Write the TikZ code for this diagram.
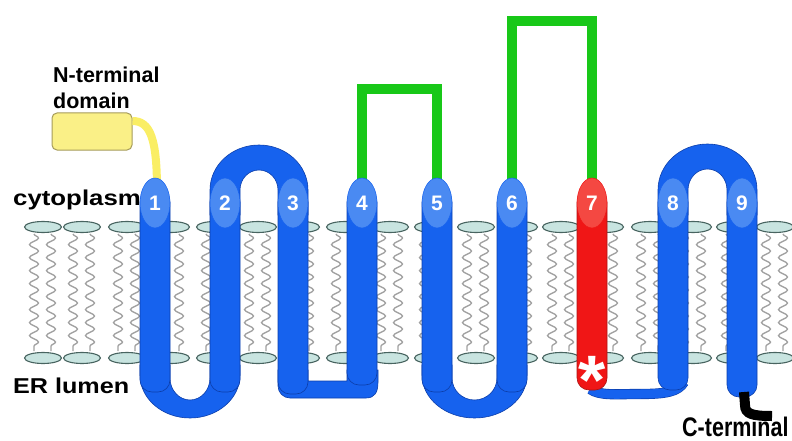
\documentclass[tikz,border=0pt]{standalone}
\usepackage{fontspec}
\setmainfont{Liberation Sans}
\usetikzlibrary{decorations.pathmorphing,shapes.geometric}
\definecolor{hblue}{RGB}{22,98,238}
\definecolor{hedge}{RGB}{12,62,170}
\definecolor{oblue}{RGB}{74,138,242}
\definecolor{hred}{RGB}{240,22,22}
\definecolor{ored}{RGB}{244,72,66}
\definecolor{redge}{RGB}{170,20,20}
\definecolor{headfill}{RGB}{200,228,224}
\definecolor{headedge}{RGB}{72,100,96}
\definecolor{tailgray}{RGB}{160,160,160}
\definecolor{loopgreen}{RGB}{24,200,24}
\definecolor{ntfill}{RGB}{250,240,135}
\definecolor{ntedge}{RGB}{165,155,90}
\definecolor{ntline}{RGB}{250,238,100}
\begin{document}
\begin{tikzpicture}[x=1pt,y=-1pt,
  lbl/.style={font=\bfseries\fontsize{21.5}{24}\selectfont, inner sep=0pt, anchor=base west},
  num/.style={ellipse, minimum width=30pt, minimum height=50pt, inner sep=0pt,
              font=\bfseries\fontsize{21}{23}\selectfont, text=white},
  lipidhead/.style={fill=headfill, draw=headedge, line width=1.1pt},
  lipidtail/.style={draw=tailgray, line width=1.3pt, decorate,
                    decoration={snake, segment length=13pt, amplitude=4.5pt}},
  helixbody/.style={fill=hblue, draw=hedge, line width=0.6pt, rounded corners=12pt},
  loopband/.style={fill=hblue, draw=hedge, line width=0.6pt},
  greenloop/.style={draw=loopgreen, line width=10pt, line join=miter},
]
\useasboundingbox (0,0) rectangle (792,441);

% lipid bilayer: tails, then head groups of both leaflets
\foreach \x in {43,82,127,171,215,258,301,345,390,433,476,519,561,605,650,693,735,775}{
  \draw[lipidtail] (\x-9,234) -- (\x-9,351);
  \draw[lipidtail] (\x+8,234) -- (\x+8,351);
}
\foreach \x in {43,82,127,171,215,258,301,345,390,433,476,519,561,605,650,693,735,775}{
  \draw[lipidhead] (\x,227) ellipse[x radius=18.5, y radius=5.5];
  \draw[lipidhead] (\x,358) ellipse[x radius=18.5, y radius=5.5];
}

% helix top positions
\coordinate (c4) at (362,203);
\coordinate (c5) at (437,203);
\coordinate (c6) at (512,203);
\coordinate (c7) at (592,203);
\coordinate (g45) at (437,89);
\coordinate (g67) at (592,21);

% extramembrane loops
\draw[greenloop] (c4) |- (g45) -- (c5);
\draw[greenloop] (c6) |- (g67) -- (c7);

% lumenal U-loops 1-2 and 5-6
\filldraw[loopband] (140,365) -- (140,375) arc[start angle=180, end angle=0, x radius=50, y radius=43]
  -- (240,365) -- (210,365) -- (210,378) arc[start angle=0, end angle=180, x radius=20, y radius=22]
  -- (170,365) -- cycle;
\filldraw[loopband] (422,365) -- (422,375) arc[start angle=180, end angle=0, x radius=52.5, y radius=43]
  -- (527,365) -- (497,365) -- (497,378) arc[start angle=0, end angle=180, x radius=22.5, y radius=22]
  -- (452,365) -- cycle;
% cytoplasmic arches 2-3 and 8-9
\filldraw[loopband] (210,215) -- (210,190) arc[start angle=180, end angle=360, x radius=49, y radius=45]
  -- (308,215) -- (278,215) -- (278,190) arc[start angle=360, end angle=180, x radius=19, y radius=20]
  -- (240,215) -- cycle;
\filldraw[loopband] (658,215) -- (658,190) arc[start angle=180, end angle=360, x radius=49.5, y radius=46]
  -- (757,215) -- (727,215) -- (727,190) arc[start angle=360, end angle=180, x radius=19.5, y radius=21]
  -- (688,215) -- cycle;
% short lumenal loop 3-4
\filldraw[loopband] (278,370) -- (278,386) arc[start angle=180, end angle=90, radius=12]
  -- (366,398) .. controls (375,398) and (378,392) .. (378,382) -- (378,370)
  -- (347,370) -- (347,381) -- (308,381) -- (308,370) -- cycle;
% thin lumenal loop 7-8
\draw[hedge, line width=10.2pt] (590,389) .. controls (600,396) and (615,394) .. (640,394)
  .. controls (665,394) and (678,392) .. (684,382);
\draw[hblue, line width=9pt] (590,389) .. controls (600,396) and (615,394) .. (640,394)
  .. controls (665,394) and (678,392) .. (684,382);

% N-terminal domain
\node[draw=ntedge, fill=ntfill, rounded corners=5pt, minimum width=80pt, minimum height=37pt,
      line width=1pt, inner sep=0pt] (nt) at (92,131.5) {};
\draw[ntline, line width=8pt] ([yshift=10.5pt]nt.east) .. controls (150,121) and (157,138) .. (157,190);

% transmembrane helices
\foreach \x/\b in {155/392,225/392,293/394,362/385,437/392,512/392,673/390,742/397}{
  \draw[helixbody] (\x-15,190) rectangle (\x+15,\b);
}
\draw[helixbody, fill=hred, draw=redge] (577,190) rectangle (607,390);

% C-terminal tail
\draw[black, line width=10pt] (744,392) -- (745,405) .. controls (745,414) and (752,416) .. (772,416);

% helix numbers
\foreach \x/\n in {155/1,225/2,293/3,362/4,437/5,512/6,673/8,742/9}{
  \node[num, fill=oblue, draw=hblue, line width=0.5pt] (h\n) at (\x,203) {\n};
}
\node[num, fill=ored, draw=hred, line width=0.5pt] (h7) at (592,203) {7};
\node[font=\bfseries\fontsize{70}{70}\selectfont, text=white, inner sep=0pt, anchor=base] (star) at (592,404) {*};

% labels
\node[lbl] (ntl1) at (53,83) {N-terminal};
\node[lbl] (ntl2) at (53,109) {domain};
\node[lbl] (cyto) at (13,205) {\scalebox{1.2}[1]{cytoplasm}};
\node[lbl] (lumen) at (13,393) {\scalebox{1.17}[1]{ER lumen}};
\node[lbl] (ct) at (682,436) {\scalebox{1}[1.25]{C-terminal}};
\end{tikzpicture}
\end{document}
